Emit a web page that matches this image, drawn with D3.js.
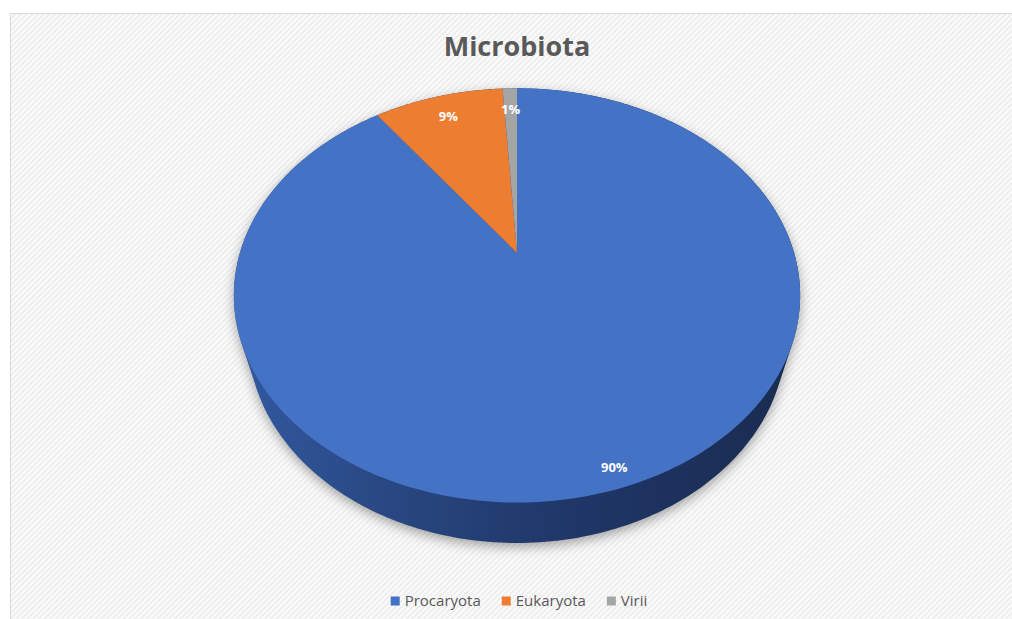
<!DOCTYPE html>
<html><head><meta charset="utf-8">
<script src="https://cdn.jsdelivr.net/npm/d3@7"></script>
<style>html,body{margin:0;padding:0;background:#fff;}svg{display:block;}</style>
</head><body>
<script>
const categories = ["Procaryota", "Eukaryota", "Virii"];
const values = [90, 9, 1];
const labels = ["90%", "9%", "1%"];
const colors = ["#4472C4", "#ED7D31", "#A5A5A5"];
const title = "Microbiota";

const W = 1012, H = 619;
const svg = d3.select("body").append("svg").attr("width", W).attr("height", H);
const defs = svg.append("defs");

// background hatch
const pat = defs.append("pattern").attr("id","hatch").attr("patternUnits","userSpaceOnUse")
  .attr("width",4).attr("height",4).attr("patternTransform","rotate(45)");
pat.append("rect").attr("width",4).attr("height",4).attr("fill","#fbfbfb");
pat.append("rect").attr("width",2).attr("height",4).attr("fill","#eeeeee");
svg.append("rect").attr("x",10.5).attr("y",13.5).attr("width",W+20).attr("height",H+20)
  .attr("fill","url(#hatch)").attr("stroke","#d9d9d9").attr("stroke-width",1);

// title
svg.append("text").attr("x",517).attr("y",56).attr("text-anchor","middle")
  .attr("font-family","'Open Sans', sans-serif").attr("font-weight",700).attr("font-size",27)
  .attr("fill","#595959").text(title);

// 3D projection of tilted disk
const cx = 517, cy = 253, f = 945, sphi = 0.716, cphi = 0.698, D = 3.41, h = 0.243;
function proj(X, Y, Z) {
  const d = D - Z * cphi - Y * sphi;
  return [cx + f * X / d, cy + f * (Z * sphi - Y * cphi) / d];
}
function rim(a, Y, r = 1) { return proj(r * Math.sin(a), Y, -r * Math.cos(a)); }

const pie = d3.pie().sort(null).value(d => d)(values);

// shadow filter
const flt = defs.append("filter").attr("id","shadow").attr("x","-20%").attr("y","-20%").attr("width","140%").attr("height","140%");
flt.append("feGaussianBlur").attr("stdDeviation",6);

// side gradient
const grad = defs.append("linearGradient").attr("id","side").attr("gradientUnits","userSpaceOnUse")
  .attr("x1",232).attr("x2",802).attr("y1",0).attr("y2",0);
[[0,"#3259a0"],[0.3,"#28467f"],[0.6,"#1f3667"],[1,"#1a2b4f"]].forEach(s =>
  grad.append("stop").attr("offset",s[0]).attr("stop-color",s[1]));

// hull of cylinder (side)
const pts = [];
const N = 360;
for (let i = 0; i < N; i++) {
  const a = i / N * 2 * Math.PI;
  pts.push(rim(a, 0)); pts.push(rim(a, -h));
}
const hull = d3.polygonHull(pts);
const line = d3.line();
svg.append("path").attr("d", line(hull) + "Z").attr("transform","translate(0,4)")
  .attr("fill","rgba(0,0,0,0.35)").attr("filter","url(#shadow)");
svg.append("path").attr("d", line(hull) + "Z").attr("fill","url(#side)");

// top face slices
pie.forEach((p, i) => {
  const arr = [proj(0,0,0)];
  const n = Math.max(4, Math.ceil((p.endAngle - p.startAngle) / (Math.PI/180)));
  for (let k = 0; k <= n; k++) {
    arr.push(rim(p.startAngle + (p.endAngle - p.startAngle) * k / n, 0));
  }
  svg.append("path").attr("d", line(arr) + "Z").attr("fill", colors[i]);
});

// data labels
pie.forEach((p, i) => {
  const mid = (p.startAngle + p.endAngle) / 2;
  const r = p.value > 50 ? 0.93 : 0.85;
  const [x, y] = rim(mid, 0, r);
  svg.append("text").attr("x", x).attr("y", y).attr("dy","0.35em").attr("text-anchor","middle")
    .attr("font-family","'Open Sans', sans-serif").attr("font-weight",700).attr("font-size",13)
    .attr("fill","#ffffff").text(labels[i]);
});

// legend
const lg = svg.append("g");
let lx = 0;
categories.forEach((c, i) => {
  const g = lg.append("g").attr("transform", `translate(${lx},0)`);
  g.append("rect").attr("x",0).attr("y",-4.5).attr("width",9).attr("height",9).attr("fill",colors[i]);
  const t = g.append("text").attr("x",14).attr("y",0).attr("dy","0.35em")
    .attr("font-family","'Open Sans', sans-serif").attr("font-size",15).attr("fill","#595959").text(c);
  lx += 14 + t.node().getComputedTextLength() + 21;
});
const totalW = lx - 21;
lg.attr("transform", `translate(${519 - totalW/2},601)`);
</script>
</body></html>
